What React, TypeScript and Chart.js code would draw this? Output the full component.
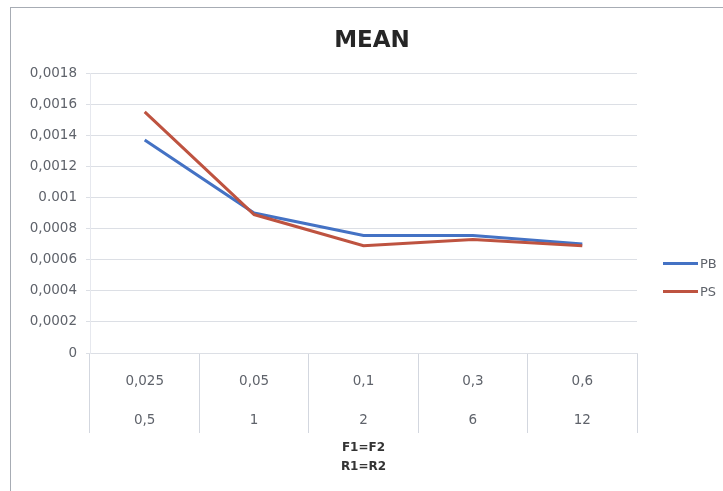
import { useEffect, useRef } from "react";
import { Chart, registerables } from "chart.js";

Chart.register(...registerables);

// Category labels (two-level axis: F value over R value)
const categoriesF = ["0,025", "0,05", "0,1", "0,3", "0,6"];
const categoriesR = ["0,5", "1", "2", "6", "12"];

// Series values
const pbValues = [0.00137, 0.0009, 0.000755, 0.000755, 0.0007];
const psValues = [0.00155, 0.00089, 0.00069, 0.00073, 0.00069];

// Y axis ticks
const yTickValues = [0, 0.0002, 0.0004, 0.0006, 0.0008, 0.001, 0.0012, 0.0014, 0.0016, 0.0018];
const yTickLabels = ["0", "0,0002", "0,0004", "0,0006", "0,0008", "0.001", "0,0012", "0,0014", "0,0016", "0,0018"];

const seriesNames = ["PB", "PS"];
const seriesColors = ["#4472C4", "#BE5340"];
const chartTitle = "MEAN";
const xAxisTitle = ["F1=F2", "R1=R2"];

const FONT = "'DejaVu Sans', 'Open Sans', sans-serif";
const TEXT_GRAY = "#5f636b";
const GRID = "#dcdfe5";

export default function App() {
  const canvasRef = useRef<HTMLCanvasElement | null>(null);

  useEffect(() => {
    const canvas = canvasRef.current;
    if (!canvas) return;
    const chart = new Chart(canvas, {
      type: "line",
      data: {
        labels: categoriesF.map((f, i) => [f, categoriesR[i]]),
        datasets: [
          {
            label: seriesNames[0],
            data: pbValues,
            borderColor: seriesColors[0],
            backgroundColor: seriesColors[0],
            borderWidth: 3,
            pointRadius: 0,
            tension: 0,
            order: 2,
          },
          {
            label: seriesNames[1],
            data: psValues,
            borderColor: seriesColors[1],
            backgroundColor: seriesColors[1],
            borderWidth: 3,
            pointRadius: 0,
            tension: 0,
            order: 1,
          },
        ],
      },
      options: {
        animation: false,
        responsive: true,
        maintainAspectRatio: false,
        layout: { padding: 0 },
        plugins: {
          legend: { display: false },
          tooltip: { enabled: false },
          title: {
            display: true,
            text: chartTitle,
            color: "#262626",
            font: { family: FONT, size: 23, weight: "bold", lineHeight: 1.2 },
            padding: { top: 17, bottom: 18.4 },
          },
        },
        scales: {
          x: {
            type: "category",
            offset: true,
            afterFit: (scale: any) => {
              scale.height = 138;
            },
            grid: {
              offset: true,
              drawOnChartArea: false,
              drawTicks: true,
              tickLength: 80,
              color: "#d3d7df",
              lineWidth: 1,
            },
            border: { display: true, color: GRID },
            ticks: {
              color: TEXT_GRAY,
              font: { family: FONT, size: 13.5, lineHeight: 2.89 },
              padding: -71.5,
              maxRotation: 0,
              autoSkip: false,
            },
            title: {
              display: true,
              text: xAxisTitle,
              color: "#333333",
              font: { family: FONT, size: 12, weight: "bold", lineHeight: 1.58 },
              padding: { top: 0, bottom: 14.5 },
            },
          },
          y: {
            min: 0,
            max: 0.0018,
            afterBuildTicks: (scale: any) => {
              scale.ticks = yTickValues.map((v) => ({ value: v }));
            },
            afterFit: (scale: any) => {
              scale.width = 79;
            },
            grid: {
              color: GRID,
              lineWidth: 1,
              tickLength: 4,
            },
            border: { display: true, color: "#e6e8ee" },
            ticks: {
              color: TEXT_GRAY,
              font: { family: FONT, size: 13.5 },
              padding: 9,
              callback: (_v: any, i: number) => yTickLabels[i],
            },
          },
          // empty right-hand box that keeps room for the legend
          legendSpace: {
            type: "linear",
            position: "right",
            display: true,
            grid: { display: false },
            border: { display: false },
            ticks: { display: false },
            afterFit: (scale: any) => {
              scale.width = 96;
            },
          },
        },
      },
    });
    return () => chart.destroy();
  }, []);

  const legendRows = [263, 291];

  return (
    <div style={{ position: "fixed", left: 0, top: 0, width: 723, height: 491, overflow: "hidden", background: "#fff" }}>
      <div
        style={{
          position: "absolute",
          left: 10,
          top: 7,
          right: -10,
          bottom: -10,
          borderLeft: "1px solid #a7acb4",
          borderTop: "1px solid #a7acb4",
        }}
      />
      <div style={{ position: "absolute", left: 11, top: 10, width: 722, height: 481 }}>
        <canvas ref={canvasRef} />
      </div>
      {seriesNames.map((name, i) => (
        <div
          key={name}
          style={{
            position: "absolute",
            left: 663,
            top: legendRows[i] - 8,
            height: 16,
            display: "flex",
            alignItems: "center",
            fontFamily: FONT,
            fontSize: 13,
            color: TEXT_GRAY,
            whiteSpace: "nowrap",
          }}
        >
          <div style={{ width: 35, height: 3, background: seriesColors[i] }} />
          <span style={{ marginLeft: 2 }}>{name}</span>
        </div>
      ))}
    </div>
  );
}
